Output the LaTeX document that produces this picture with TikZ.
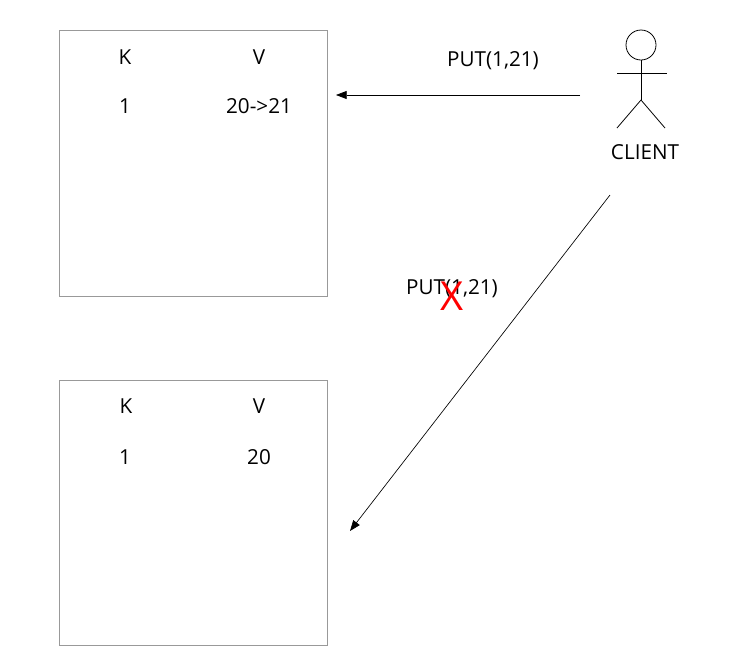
\documentclass[tikz,border=0pt]{standalone}
\usepackage{fontspec}
\setmainfont{Open Sans}
\usetikzlibrary{arrows.meta}
\begin{document}
\begin{tikzpicture}[x=0.75pt,y=-0.75pt,
  store/.style={draw=black!40,line width=0.6pt},
  lbl/.style={font=\fontsize{15.5}{17}\selectfont,inner sep=0pt},
  msg/.style={-{Triangle[length=8pt,width=6pt]},line width=0.5pt},
  fig/.style={line width=0.6pt}]
\useasboundingbox (0,0) rectangle (733,658);
\draw[store] (59,30) rectangle (327,296);
\draw[store] (59,380) rectangle (327,645);
\node[lbl] (k1) at (125,57) {K};
\node[lbl] (v1) at (259,57) {V};
\node[lbl] (r1k) at (125,106) {1};
\node[lbl] (r1v) at (259,106) {20->21};
\node[lbl] (k2) at (126,406) {K};
\node[lbl] (v2) at (259,406) {V};
\node[lbl] (r2k) at (125,457) {1};
\node[lbl] (r2v) at (259,457) {20};
% client
\draw[fig] (641,45) circle (15);
\draw[fig] (641,60) -- (641,100);
\draw[fig] (617,73) -- (667,73);
\draw[fig] (641,100) -- (617,128);
\draw[fig] (641,100) -- (665,128);
\node[lbl] (client) at (645,152) {CLIENT};
\coordinate (c1) at (580,95);
\coordinate (s1) at (336,95);
\coordinate (c2) at (610,195);
\coordinate (s2) at (350,531);
\draw[msg] (c1) -- (s1);
\draw[msg] (c2) -- (s2);
\node[lbl] (m1) at (493,61) {PUT(1,21)};
\node[lbl] (m2) at (452,289) {PUT(1,21)};
\node[lbl,text=red,font=\fontsize{30}{32}\selectfont] (x) at (452,296) {X};
\end{tikzpicture}
\end{document}
